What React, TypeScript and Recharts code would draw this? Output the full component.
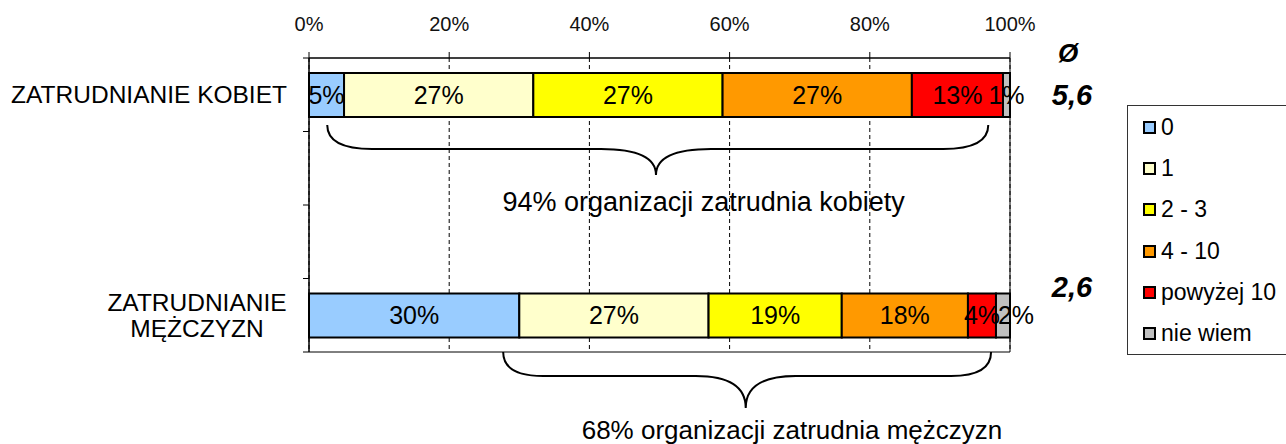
import {
  Bar,
  BarChart,
  CartesianGrid,
  LabelList,
  Legend,
  ReferenceArea,
  XAxis,
  YAxis,
} from 'recharts'

const FONT = '"Liberation Sans", Arial, sans-serif'

// rows of the chart (two blank rows keep the gap between the bars)
const categoryIds = ['kobiety', 'gap1', 'gap2', 'mezczyzni']
const categories = ['ZATRUDNIANIE KOBIET', '', '', 'ZATRUDNIANIE\nMĘŻCZYZN']
const averages = ['5,6', null, null, '2,6']

// stacked segments, in %
const seriesNames = ['0', '1', '2 - 3', '4 - 10', 'powyżej 10', 'nie wiem']
const seriesColors = ['#99ccff', '#ffffcc', '#ffff00', '#ff9900', '#ff0000', '#c0c0c0']
const kobiety = [5, 27, 27, 27, 13, 1]
const mezczyzni = [30, 27, 19, 18, 4, 2]

const xTicks = [0, 20, 40, 60, 80, 100]

// curly braces under the bars, in % of the axis
const braceRows = ['kobiety', 'mezczyzni']
const braceFrom = [2.6, 27.7]
const braceTo = [96.9, 97.3]
const bracePeak = [49.5, 62.3]
const braceTextAt = [56.3, 68.9]
const braceTexts = ['94% organizacji zatrudnia kobiety', '68% organizacji zatrudnia mężczyzn']

const rowValues = [kobiety, null, null, mezczyzni]
const rows = categoryIds.map((id, i) => {
  const row: Record<string, string | number | null> = { id, label: categories[i], avg: averages[i] }
  seriesNames.forEach((_, s) => {
    const vals = rowValues[i]
    row[`s${s}`] = vals ? vals[s] : null
  })
  return row
})

// offsets (px) from the bottom of the row band
const braceLook = [
  { tip: -6.5, line: 17.5, peak: 43.5, text: 70.5, endR: 45, peakR: 55, font: 27 },
  { tip: 0, line: 24, peak: 56, text: 78, endR: 40, peakR: 50, font: 26 },
]

function renderBrace(i: number) {
  return (p: { x: number; y: number; width: number; height: number }) => {
    const look = braceLook[i]
    const span = braceTo[i] - braceFrom[i]
    const x0 = p.x
    const x1 = p.x + p.width
    const xp = p.x + (p.width * (bracePeak[i] - braceFrom[i])) / span
    const xt = p.x + (p.width * (braceTextAt[i] - braceFrom[i])) / span
    const base = p.y + p.height
    const tip = base + look.tip
    const line = base + look.line
    const peak = base + look.peak
    const d = [
      `M${x0},${tip}`,
      `Q${x0},${line} ${x0 + look.endR},${line}`,
      `L${xp - look.peakR},${line}`,
      `Q${xp},${line} ${xp},${peak}`,
      `Q${xp},${line} ${xp + look.peakR},${line}`,
      `L${x1 - look.endR},${line}`,
      `Q${x1},${line} ${x1},${tip}`,
    ].join(' ')
    return (
      <g>
        <path d={d} fill="none" stroke="#000" strokeWidth={2} />
        <text
          x={xt}
          y={base + look.text}
          dy="0.35em"
          textAnchor="middle"
          fontSize={look.font}
          fill="#000"
          fontFamily={FONT}
        >
          {braceTexts[i]}
        </text>
      </g>
    )
  }
}

function CategoryTick(props: any) {
  const { x, y, payload, index } = props
  const half = payload?.offset ?? 36.75
  const row = rows.find((r) => r.id === payload.value)
  const lines = String(row?.label ?? '').split('\n').filter(Boolean)
  return (
    <g>
      {index === 0 && <line x1={x - 6} x2={x} y1={y - half} y2={y - half} stroke="#000" />}
      <line x1={x - 6} x2={x} y1={y + half} y2={y + half} stroke="#000" />
      {lines.length === 1 && (
        <text x={x - 22} y={y} dy="0.35em" textAnchor="end" fontSize={24.5} fill="#000" fontFamily={FONT}>
          {lines[0]}
        </text>
      )}
      {lines.length > 1 &&
        lines.map((t, k) => (
          <text
            key={t}
            x={x - 112}
            y={y + (k - (lines.length - 1) / 2) * 26}
            dy="0.35em"
            textAnchor="middle"
            fontSize={24.5}
            fill="#000"
            fontFamily={FONT}
          >
            {t}
          </text>
        ))}
    </g>
  )
}

function AvgTick(props: any) {
  const { x, y, payload, index } = props
  const row = rows.find((r) => r.id === payload.value)
  if (!row || !row.avg) return null
  const dy = index === 0 ? 0 : -28
  return (
    <g>
      {index === 0 && (
        <text
          x={x + 58}
          y={y - 42}
          dy="0.35em"
          textAnchor="middle"
          fontSize={26}
          fontWeight="bold"
          fontStyle="italic"
          fill="#000"
          fontFamily={FONT}
        >
          Ø
        </text>
      )}
      <text
        x={x + 62}
        y={y + dy}
        dy="0.35em"
        textAnchor="middle"
        fontSize={29}
        fontWeight="bold"
        fontStyle="italic"
        fill="#000"
        fontFamily={FONT}
      >
        {row.avg}
      </text>
    </g>
  )
}

// segment label; pushed right when the segment before it is too narrow
function segmentLabel(s: number) {
  return (p: any) => {
    if (p.value == null) return null
    const row = rows[p.index]
    const prev = s > 0 && row ? Number(row[`s${s - 1}`] ?? 0) : 100
    const shift = s === seriesNames.length - 1 && prev < 8 ? 13 : 0
    return (
      <text
        x={p.x + p.width / 2 + shift}
        y={p.y + p.height / 2}
        dy="0.35em"
        textAnchor="middle"
        fontSize={25}
        fill="#000"
        fontFamily={FONT}
      >
        {`${p.value}%`}
      </text>
    )
  }
}

function LegendBox(props: any) {
  const items = [...(props.payload ?? [])].sort(
    (a: any, b: any) => seriesNames.indexOf(a.value) - seriesNames.indexOf(b.value),
  )
  return (
    <div
      style={{
        boxSizing: 'border-box',
        width: 180,
        height: 250,
        border: '1.5px solid #333',
        background: '#fff',
        padding: '1px 0 0 15px',
        fontFamily: FONT,
      }}
    >
      {items.map((it: any) => (
        <div
          key={it.value}
          style={{ height: 41.2, display: 'flex', alignItems: 'center', fontSize: 23, color: '#000' }}
        >
          <span
            style={{
              display: 'inline-block',
              boxSizing: 'border-box',
              width: 13,
              height: 13,
              border: '2px solid #000',
              background: seriesColors[seriesNames.indexOf(it.value)] ?? it.color,
              marginRight: 5,
            }}
          />
          {it.value}
        </div>
      ))}
    </div>
  )
}

export default function App() {
  return (
    <div style={{ position: 'relative', width: 1286, height: 444, overflow: 'hidden', background: '#fff', fontFamily: FONT }}>
      <style>{'body{margin:0;background:#fff}'}</style>
      <BarChart
        width={1286}
        height={444}
        layout="vertical"
        data={rows}
        margin={{ top: 0, right: 176, bottom: 92, left: 9 }}
        barSize={44}
      >
        <CartesianGrid horizontal={false} stroke="#000" strokeDasharray="4 3" />
        <XAxis
          type="number"
          orientation="top"
          domain={[0, 100]}
          ticks={xTicks}
          tickFormatter={(v: number) => `${v}%`}
          height={58}
          tickSize={6}
          tickMargin={21}
          axisLine={{ stroke: '#000' }}
          tickLine={{ stroke: '#000' }}
          tick={{ fontSize: 20, fill: '#111', fontFamily: FONT }}
        />
        <YAxis
          type="category"
          dataKey="id"
          width={300}
          interval={0}
          tickSize={0}
          tickMargin={0}
          tickLine={false}
          axisLine={{ stroke: '#000' }}
          tick={<CategoryTick />}
        />
        <YAxis
          yAxisId="avg"
          type="category"
          dataKey="id"
          orientation="right"
          width={100}
          interval={0}
          tickSize={0}
          tickMargin={0}
          tickLine={false}
          axisLine={false}
          tick={<AvgTick />}
        />
        <ReferenceArea x1={0} x2={100} fill="none" fillOpacity={0} stroke="#000" strokeWidth={1} />
        {braceRows.map((r, i) => (
          <ReferenceArea
            key={r}
            x1={braceFrom[i]}
            x2={braceTo[i]}
            y1={r}
            y2={r}
            fill="none"
            shape={renderBrace(i)}
          />
        ))}
        {seriesNames.map((name, s) => (
          <Bar
            key={name}
            dataKey={`s${s}`}
            name={name}
            stackId="a"
            fill={seriesColors[s]}
            stroke="#000"
            strokeWidth={2}
            isAnimationActive={false}
          >
            <LabelList dataKey={`s${s}`} content={segmentLabel(s)} />
          </Bar>
        ))}
        <Legend
          layout="vertical"
          align="center"
          verticalAlign="middle"
          wrapperStyle={{ left: 1127, top: 105, width: 180, height: 250 }}
          content={<LegendBox />}
        />
      </BarChart>
    </div>
  )
}
